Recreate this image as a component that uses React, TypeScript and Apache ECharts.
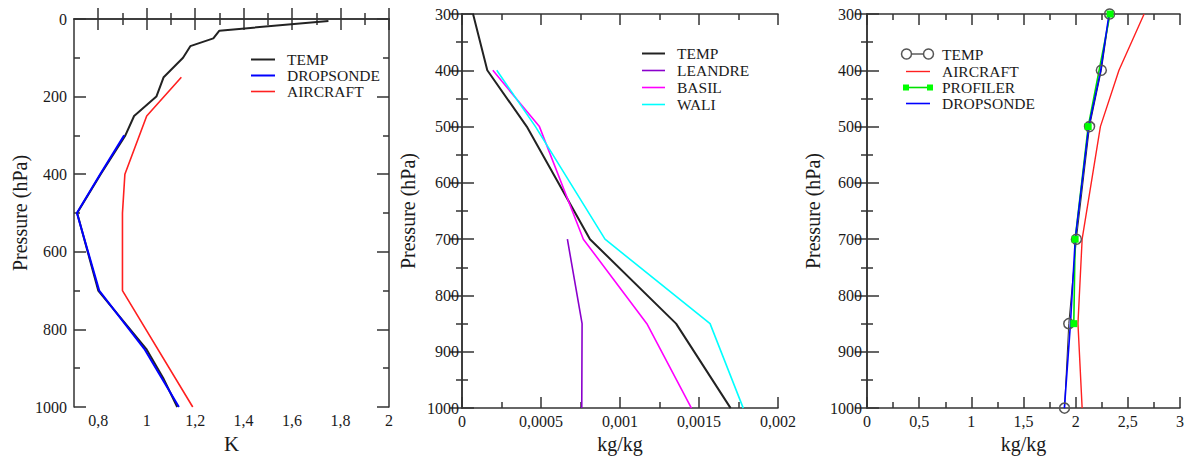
import React, { useEffect, useRef } from "react";
import * as echarts from "echarts";

// ---------- Panel 1 (temperature, K) ----------
const P1_X_MAJOR = [0.8, 1, 1.2, 1.4, 1.6, 1.8, 2];
const P1_X_MINOR = [0.9, 1.1, 1.3, 1.5, 1.7, 1.9];
const P1_TEMP_P = [5, 30, 50, 70, 100, 150, 200, 250, 300, 400, 500, 700, 850, 925, 1000];
const P1_TEMP_V = [1.75, 1.3, 1.275, 1.18, 1.15, 1.07, 1.04, 0.948, 0.912, 0.81, 0.713, 0.8, 0.998, 1.068, 1.126];
const P1_DROP_P = [300, 400, 500, 700, 850, 1000];
const P1_DROP_V = [0.907, 0.808, 0.712, 0.804, 0.99, 1.133];
const P1_AIR_P = [150, 250, 400, 500, 700, 1000];
const P1_AIR_V = [1.143, 1.0, 0.91, 0.9, 0.9, 1.19];

// ---------- Panel 2 (humidity, kg/kg) ----------
const P2_TEMP_P = [300, 400, 500, 700, 850, 1000];
const P2_TEMP_V = [0.00007, 0.00016, 0.00041, 0.00081, 0.001355, 0.0017];
const P2_LEANDRE_P = [700, 850, 1000];
const P2_LEANDRE_V = [0.000667, 0.00076, 0.000758];
const P2_BASIL_P = [400, 500, 700, 850, 1000];
const P2_BASIL_V = [0.000195, 0.00049, 0.000768, 0.00117, 0.001452];
const P2_WALI_P = [400, 500, 700, 850, 1000];
const P2_WALI_V = [0.00022, 0.000465, 0.000905, 0.00157, 0.00178];

// ---------- Panel 3 (kg/kg) ----------
const P3_TEMP_P = [300, 400, 500, 700, 850, 1000];
const P3_TEMP_V = [2.325, 2.246, 2.133, 2.007, 1.934, 1.893];
const P3_AIR_P = [300, 400, 500, 700, 850, 1000];
const P3_AIR_V = [2.656, 2.415, 2.237, 2.062, 2.022, 2.062];
const P3_PROF_P = [300, 500, 700, 850];
const P3_PROF_V = [2.33, 2.12, 1.995, 1.982];
const P3_DROP_P = [300, 400, 500, 700, 850, 1000];
const P3_DROP_V = [2.32, 2.24, 2.125, 1.996, 1.95, 1.892];

const FONT = "'Liberation Serif', 'Times New Roman', serif";
const AXIS_COLOR = "#333";
const TEXT_COLOR = "#1a1a1a";
const LEANDRE_COLOR = "#8a00cc";

const fmt = (v: number) =>
  parseFloat(Number(v).toPrecision(8)).toString().replace(".", ",");

const pairs = (vals: number[], ps: number[]) => vals.map((v, i) => [v, ps[i]]);

const tickBase = (len: number) => ({
  show: true,
  inside: true,
  length: len,
  lineStyle: { color: AXIS_COLOR, width: 1.5 },
});
const minorBase = {
  show: true,
  splitNumber: 2,
  length: 6,
  lineStyle: { color: AXIS_COLOR, width: 1.5 },
};
const lineBase = { show: true, lineStyle: { color: AXIS_COLOR, width: 1.5 } };
const labelStyle = { fontFamily: FONT, fontSize: 16, color: TEXT_COLOR };

export default function App() {
  const ref = useRef<HTMLDivElement>(null);

  useEffect(() => {
    if (!ref.current) return;
    const chart = echarts.init(ref.current, undefined, { renderer: "svg" });

    const grids = [
      { left: 74, top: 19, width: 315, height: 400 },
      { left: 462, top: 14, width: 316, height: 401 },
      { left: 867, top: 14, width: 315, height: 401 },
      { left: 74, top: 19, width: 315, height: 400 },
    ];

    const xAxes: any[] = [
      {
        type: "value", gridIndex: 0, position: "bottom", min: 0.7, max: 2,
        axisLine: lineBase,
        axisTick: { ...tickBase(11), customValues: P1_X_MAJOR },
        axisLabel: { ...labelStyle, margin: 5, customValues: P1_X_MAJOR, formatter: fmt },
        splitLine: { show: false },
        name: "K", nameLocation: "middle", nameGap: 26,
        nameTextStyle: { fontFamily: FONT, fontSize: 21, color: TEXT_COLOR },
      },
      {
        type: "value", gridIndex: 0, position: "top", min: 0.7, max: 2,
        axisLine: lineBase,
        axisTick: { ...tickBase(11), customValues: P1_X_MAJOR },
        axisLabel: { show: false },
        splitLine: { show: false },
      },
      {
        type: "value", gridIndex: 1, position: "bottom", min: 0, max: 0.002, interval: 0.0005,
        axisLine: lineBase, axisTick: tickBase(11), minorTick: minorBase,
        axisLabel: { ...labelStyle, margin: 5, formatter: fmt },
        splitLine: { show: false }, minorSplitLine: { show: false },
        name: "kg/kg", nameLocation: "middle", nameGap: 25,
        nameTextStyle: { fontFamily: FONT, fontSize: 20, color: TEXT_COLOR },
      },
      {
        type: "value", gridIndex: 1, position: "top", min: 0, max: 0.002, interval: 0.0005,
        axisLine: lineBase, axisTick: tickBase(11), minorTick: minorBase,
        axisLabel: { show: false }, splitLine: { show: false },
      },
      {
        type: "value", gridIndex: 2, position: "bottom", min: 0, max: 3, interval: 0.5,
        axisLine: lineBase, axisTick: tickBase(11), minorTick: minorBase,
        axisLabel: { ...labelStyle, margin: 5, formatter: fmt },
        splitLine: { show: false },
        name: "kg/kg", nameLocation: "middle", nameGap: 25,
        nameTextStyle: { fontFamily: FONT, fontSize: 20, color: TEXT_COLOR },
      },
      {
        type: "value", gridIndex: 2, position: "top", min: 0, max: 3, interval: 0.5,
        axisLine: lineBase, axisTick: tickBase(11), minorTick: minorBase,
        axisLabel: { show: false }, splitLine: { show: false },
      },
      {
        type: "value", gridIndex: 3, position: "bottom", min: 0.7, max: 2,
        axisLine: { show: false },
        axisTick: { ...tickBase(6), customValues: P1_X_MINOR },
        axisLabel: { show: false }, splitLine: { show: false },
      },
      {
        type: "value", gridIndex: 3, position: "top", min: 0.7, max: 2,
        axisLine: { show: false },
        axisTick: { ...tickBase(6), customValues: P1_X_MINOR },
        axisLabel: { show: false }, splitLine: { show: false },
      },
    ];

    const yName = {
      name: "Pressure (hPa)", nameLocation: "middle", nameGap: 44,
      nameTextStyle: { fontFamily: FONT, fontSize: 20, color: TEXT_COLOR },
    };
    const yFmt = (v: number) => String(Math.round(v));

    const yAxes: any[] = [
      {
        type: "value", gridIndex: 0, position: "left", inverse: true, min: 0, max: 1000, interval: 200,
        axisLine: lineBase, axisTick: tickBase(12), minorTick: minorBase,
        axisLabel: { ...labelStyle, margin: 7, formatter: yFmt }, splitLine: { show: false }, ...yName,
      },
      {
        type: "value", gridIndex: 0, position: "right", inverse: true, min: 0, max: 1000, interval: 200,
        axisLine: lineBase, axisTick: tickBase(12), minorTick: minorBase,
        axisLabel: { show: false }, splitLine: { show: false },
      },
      {
        type: "value", gridIndex: 1, position: "left", inverse: true, min: 300, max: 1000, interval: 100,
        axisLine: lineBase, axisTick: tickBase(12), minorTick: minorBase,
        axisLabel: { ...labelStyle, margin: 3, formatter: yFmt }, splitLine: { show: false }, ...yName,
      },
      {
        type: "value", gridIndex: 1, position: "right", inverse: true, min: 300, max: 1000, interval: 100,
        axisLine: lineBase, axisTick: tickBase(12), minorTick: minorBase,
        axisLabel: { show: false }, splitLine: { show: false },
      },
      {
        type: "value", gridIndex: 2, position: "left", inverse: true, min: 300, max: 1000, interval: 100,
        axisLine: lineBase, axisTick: tickBase(12), minorTick: minorBase,
        axisLabel: { ...labelStyle, margin: 5, formatter: yFmt }, splitLine: { show: false }, ...yName,
      },
      {
        type: "value", gridIndex: 2, position: "right", inverse: true, min: 300, max: 1000, interval: 100,
        axisLine: lineBase, axisTick: tickBase(12), minorTick: minorBase,
        axisLabel: { show: false }, splitLine: { show: false },
      },
      {
        type: "value", gridIndex: 3, position: "left", inverse: true, min: 0, max: 1000, show: false,
      },
    ];

    const ln = (name: string, xi: number, yi: number, data: number[][], color: string, width = 2, extra: any = {}) => ({
      type: "line", name, xAxisIndex: xi, yAxisIndex: yi, data,
      showSymbol: false, symbol: "none",
      lineStyle: { color, width }, itemStyle: { color },
      silent: true, ...extra,
    });

    const series: any[] = [
      ln("TEMP", 0, 0, pairs(P1_TEMP_V, P1_TEMP_P), "#222"),
      ln("AIRCRAFT", 0, 0, pairs(P1_AIR_V, P1_AIR_P), "#ff2020", 1.6),
      ln("DROPSONDE", 0, 0, pairs(P1_DROP_V, P1_DROP_P), "#0000ff"),
      ln("TEMP", 2, 2, pairs(P2_TEMP_V, P2_TEMP_P), "#222"),
      ln("LEANDRE", 2, 2, pairs(P2_LEANDRE_V, P2_LEANDRE_P), LEANDRE_COLOR, 1.6),
      ln("BASIL", 2, 2, pairs(P2_BASIL_V, P2_BASIL_P), "#ff00ff", 1.6),
      ln("WALI", 2, 2, pairs(P2_WALI_V, P2_WALI_P), "#00ffff", 1.6),
      ln("TEMP", 4, 4, pairs(P3_TEMP_V, P3_TEMP_P), "#333", 1, {
        showSymbol: true, symbol: "circle", symbolSize: 10,
        itemStyle: { color: "transparent", borderColor: "#555", borderWidth: 1.5 },
      }),
      ln("AIRCRAFT", 4, 4, pairs(P3_AIR_V, P3_AIR_P), "#ff2020", 1.4),
      ln("PROFILER", 4, 4, pairs(P3_PROF_V, P3_PROF_P), "#00e000", 1.6, {
        showSymbol: true, symbol: "rect", symbolSize: 7,
        itemStyle: { color: "#00ff00" },
      }),
      ln("DROPSONDE", 4, 4, pairs(P3_DROP_V, P3_DROP_P), "#0000ff", 1.6),
    ];

    const legText = (x: number, y: number, text: string) => ({
      type: "text", x, y,
      style: { text, fontFamily: FONT, fontSize: 15.5, fill: TEXT_COLOR, verticalAlign: "middle", align: "left" },
    });
    const legLine = (x1: number, x2: number, y: number, color: string, w = 2) => ({
      type: "line", shape: { x1, y1: y, x2, y2: y }, style: { stroke: color, lineWidth: w },
    });

    const graphic: any[] = [
      legLine(251, 275, 59.5, "#222"), legText(287, 59.5, "TEMP"),
      legLine(251, 275, 75.5, "#0000ff"), legText(287, 75.5, "DROPSONDE"),
      legLine(251, 275, 91.5, "#ff2020", 1.6), legText(287, 91.5, "AIRCRAFT"),
      legLine(642, 665, 53.5, "#222"), legText(677, 53.5, "TEMP"),
      legLine(642, 665, 70.5, LEANDRE_COLOR, 1.6), legText(677, 70.5, "LEANDRE"),
      legLine(642, 665, 87.5, "#ff00ff", 1.6), legText(677, 87.5, "BASIL"),
      legLine(642, 665, 104.5, "#00ffff", 1.6), legText(677, 104.5, "WALI"),
      legLine(907, 928, 54, "#333", 1.2),
      { type: "circle", shape: { cx: 906.5, cy: 54, r: 5 }, style: { fill: "#fff", stroke: "#555", lineWidth: 1.5 } },
      { type: "circle", shape: { cx: 928.5, cy: 54, r: 5 }, style: { fill: "#fff", stroke: "#555", lineWidth: 1.5 } },
      legText(942, 54, "TEMP"),
      legLine(906, 930, 71.5, "#ff2020", 1.4), legText(942, 71.5, "AIRCRAFT"),
      legLine(906, 930, 87.5, "#00e000", 1.6),
      { type: "rect", shape: { x: 903, y: 84.5, width: 6, height: 6 }, style: { fill: "#00ff00" } },
      { type: "rect", shape: { x: 927, y: 84.5, width: 6, height: 6 }, style: { fill: "#00ff00" } },
      legText(942, 87.5, "PROFILER"),
      legLine(906, 930, 103.5, "#0000ff", 1.6), legText(942, 103.5, "DROPSONDE"),
    ];

    chart.setOption({
      animation: false,
      backgroundColor: "#ffffff",
      textStyle: { fontFamily: FONT },
      grid: grids,
      xAxis: xAxes,
      yAxis: yAxes,
      series,
      graphic,
    });

    return () => chart.dispose();
  }, []);

  return (
    <div
      ref={ref}
      style={{ position: "fixed", left: 0, top: 0, width: 1187, height: 459, background: "#fff" }}
    />
  );
}
